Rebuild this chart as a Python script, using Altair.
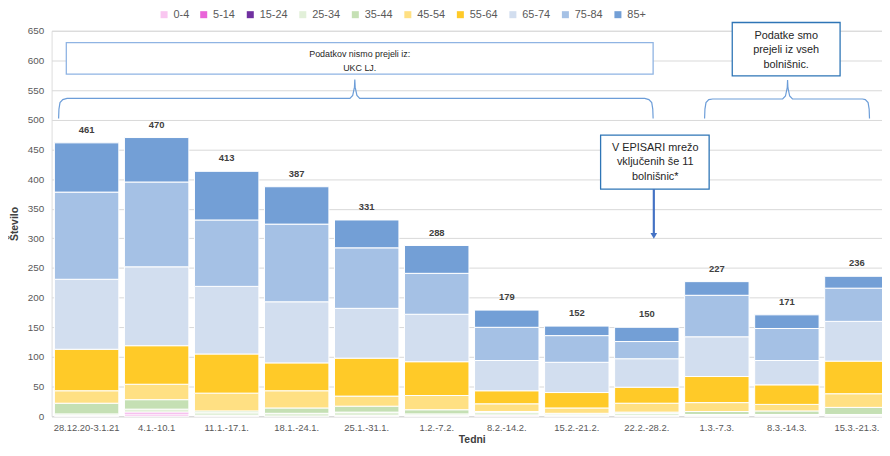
import altair as alt
import pandas as pd

# ---------------- data ----------------
weeks = ["28.12.20-3.1.21", "4.1.-10.1", "11.1.-17.1.", "18.1.-24.1.", "25.1.-31.1.",
         "1.2.-7.2.", "8.2.-14.2.", "15.2.-21.2.", "22.2.-28.2.", "1.3.-7.3.",
         "8.3.-14.3.", "15.3.-21.3."]
age_groups = ["0-4", "5-14", "15-24", "25-34", "35-44", "45-54", "55-64", "65-74", "75-84", "85+"]

a0_4 = [1, 4, 1, 0, 1, 1, 2, 1, 1, 1, 1, 1]
a5_14 = [0, 3, 0, 0, 0, 0, 0, 0, 0, 0, 0, 0]
a15_24 = [0, 0, 0, 0, 0, 0, 0, 0, 0, 0, 0, 0]
a25_34 = [3, 5, 5, 5, 6, 3, 5, 3, 4, 2, 2, 2]
a35_44 = [18, 16, 3, 9, 10, 7, 1, 1, 2, 5, 6, 12]
a45_54 = [21, 26, 30, 29, 17, 24, 13, 9, 15, 15, 11, 23]
a55_64 = [70, 65, 66, 47, 64, 57, 22, 26, 27, 44, 33, 55]
a65_74 = [118, 133, 114, 103, 84, 80, 51, 51, 48, 67, 41, 67]
a75_84 = [147, 143, 112, 131, 102, 69, 56, 45, 29, 70, 54, 56]
a85 = [83, 75, 82, 63, 47, 47, 29, 16, 24, 23, 23, 20]
series = [a0_4, a5_14, a15_24, a25_34, a35_44, a45_54, a55_64, a65_74, a75_84, a85]

colors = ["#F9C6F0", "#E964D8", "#7030A0", "#E2F0D9", "#C5E0B4",
          "#FFE083", "#FFCA28", "#D2DEEF", "#A5C1E5", "#739FD6"]

# annotation texts
box1_lines = ["Podatkov nismo prejeli iz:", "UKC LJ."]
box2_lines = ["Podatke smo", "prejeli iz vseh", "bolnišnic."]
box3_lines = ["V EPISARI mrežo", "vključenih še 11", "bolnišnic*"]

# ---------------- tables ----------------
rows = []
for gi, (g, vals) in enumerate(zip(age_groups, series)):
    for w, v in zip(weeks, vals):
        if v > 0:
            rows.append({"week": w, "group": g, "idx": gi, "value": v})
df = pd.DataFrame(rows)
totals = pd.DataFrame({"week": weeks,
                       "total": [sum(s[i] for s in series) for i in range(len(weeks))]})

# annotation geometry (x in band units 0..12, y in data units)
boxes_df = pd.DataFrame({
    "x1": [0.21, 9.72, 7.84], "x2": [8.59, 11.26, 9.39],
    "y1": [577, 574, 383], "y2": [630, 664, 474],
    "stroke": ["#8FB4E3", "#2E75B6", "#2E75B6"],
})
texts_df = pd.DataFrame({
    "text": box1_lines + box2_lines + box3_lines,
    "x": [4.40, 4.40, 10.49, 10.49, 10.49, 8.62, 8.62, 8.62],
    "y": [611, 588, 641, 617, 593, 453, 428, 403],
    "size": [9, 9, 11, 11, 11, 11, 11, 11],
})
brace_pts = [
    (0.10, 502), (0.105, 518), (0.12, 529), (0.16, 534), (0.22, 536), (4.26, 536),
    (4.30, 541), (4.325, 555), (4.33, 568), (4.335, 555), (4.36, 541), (4.40, 536),
    (8.47, 536), (8.53, 534), (8.57, 529), (8.585, 518), (8.59, 502),
]
brace2_pts = [
    (9.325, 502), (9.33, 518), (9.345, 529), (9.385, 534), (9.44, 535), (10.44, 535),
    (10.48, 540), (10.505, 554), (10.51, 567), (10.515, 554), (10.54, 540), (10.58, 535),
    (11.58, 535), (11.62, 534), (11.66, 529), (11.675, 518), (11.68, 502),
]
braces_df = pd.DataFrame(
    [{"id": 1, "o": i, "x": x, "y": y} for i, (x, y) in enumerate(brace_pts)]
    + [{"id": 2, "o": i, "x": x, "y": y} for i, (x, y) in enumerate(brace2_pts)]
)
arrow_df = pd.DataFrame({"x": [8.60], "y1": [383], "y2": [308], "yh": [304]})

# ---------------- chart ----------------
FONT = "Liberation Sans Narrow, Liberation Sans, Arial, sans-serif"
XR = [0, 848]
xband = alt.Scale(domain=weeks, range=XR, paddingInner=0.08, paddingOuter=0.04)
xq = alt.Scale(domain=[0, 12], range=XR, nice=False, zero=False)
yscale = alt.Scale(domain=[0, 650], nice=False)

bars = alt.Chart(df).mark_bar(stroke="white", strokeWidth=1).encode(
    x=alt.X("week:N", sort=weeks, scale=xband,
            axis=alt.Axis(title="Tedni", labelAngle=0, ticks=False, domainColor="#D9D9D9",
                          labelColor="#595959", labelFontSize=9.5, labelPadding=6,
                          titleFontSize=10.5, titleFontWeight="bold", titleColor="#404040",
                          titlePadding=3, grid=False)),
    y=alt.Y("value:Q", stack="zero", scale=yscale,
            axis=alt.Axis(title="Število", values=list(range(0, 651, 50)), ticks=False,
                          domain=False, grid=True, gridColor="#D9D9D9", labelColor="#595959",
                          labelFontSize=10, labelPadding=8, titleFontSize=10.5,
                          titleFontWeight="bold", titleColor="#404040", titlePadding=8)),
    color=alt.Color("group:N", scale=alt.Scale(domain=age_groups, range=colors),
                    legend=alt.Legend(title=None, orient="none", legendX=108, legendY=-22,
                                      direction="horizontal", symbolType="square",
                                      symbolSize=50, symbolStrokeWidth=0,
                                      labelFontSize=11, labelColor="#595959",
                                      labelFont=FONT, columnPadding=9, padding=0,
                                      labelOffset=4)),
    order=alt.Order("idx:Q", sort="ascending"),
)

tot = alt.Chart(totals).mark_text(dy=-13, fontWeight="bold", fontSize=9.5,
                                  color="#404040", font=FONT).encode(
    x=alt.X("week:N", sort=weeks, scale=xband, axis=None),
    y=alt.Y("total:Q", scale=yscale, axis=None),
    text="total:Q",
)

braces = alt.Chart(braces_df).mark_line(color="#6C9DD8", strokeWidth=1.2).encode(
    x=alt.X("x:Q", scale=xq, axis=None),
    y=alt.Y("y:Q", scale=yscale, axis=None),
    detail="id:N",
    order="o:Q",
)

boxes = alt.Chart(boxes_df).mark_rect(fill="white", strokeWidth=1.3).encode(
    x=alt.X("x1:Q", scale=xq, axis=None), x2="x2:Q",
    y=alt.Y("y1:Q", scale=yscale, axis=None), y2="y2:Q",
    stroke=alt.Stroke("stroke:N", scale=None),
)

box_text = alt.Chart(texts_df).mark_text(color="#262626", font=FONT, baseline="middle").encode(
    x=alt.X("x:Q", scale=xq, axis=None),
    y=alt.Y("y:Q", scale=yscale, axis=None),
    text="text:N",
    size=alt.Size("size:Q", scale=None),
)

arrow = alt.Chart(arrow_df).mark_rule(color="#4472C4", strokeWidth=2.2).encode(
    x=alt.X("x:Q", scale=xq, axis=None),
    y=alt.Y("y1:Q", scale=yscale, axis=None), y2="y2:Q",
)
arrowhead = alt.Chart(arrow_df).mark_point(shape="triangle-down", filled=True,
                                           color="#4472C4", size=45, opacity=1).encode(
    x=alt.X("x:Q", scale=xq, axis=None),
    y=alt.Y("yh:Q", scale=yscale, axis=None),
)

chart = alt.layer(bars, tot, braces, boxes, box_text, arrow, arrowhead).resolve_scale(
    x="independent"
).resolve_axis(y="independent").properties(
    width=838, height=389,
    autosize=alt.AutoSizeParams(type="none"),
    padding={"left": 44, "top": 21, "right": 0, "bottom": 27},
).configure_view(stroke=None).configure(font=FONT)

chart.save("out.html", embed_options={"renderer": "svg", "actions": False})
